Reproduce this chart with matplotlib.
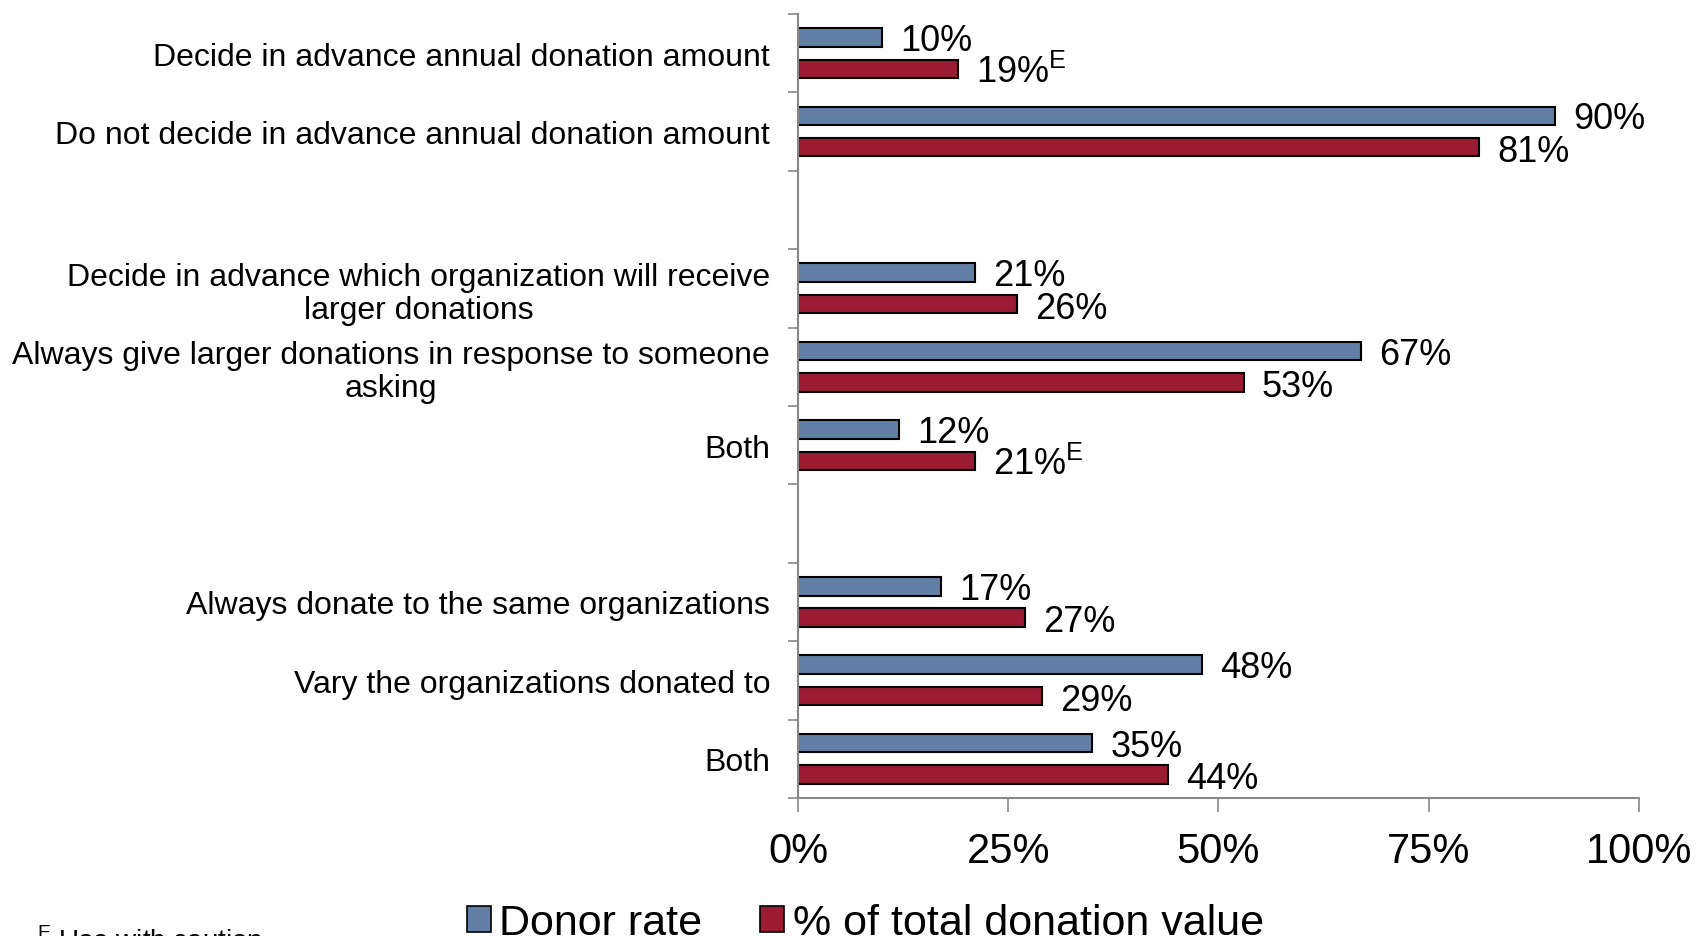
import matplotlib
matplotlib.use("Agg")
import matplotlib.pyplot as plt
from matplotlib.patches import Patch
import numpy as np

plt.rcParams['font.family'] = ['Liberation Sans', 'DejaVu Sans']
plt.rcParams['mathtext.fontset'] = 'custom'
plt.rcParams['mathtext.rm'] = 'Liberation Sans'

categories = [
    "Decide in advance annual donation amount",
    "Do not decide in advance annual donation amount",
    "Decide in advance which organization will receive\nlarger donations",
    "Always give larger donations in response to someone\nasking",
    "Both",
    "Always donate to the same organizations",
    "Vary the organizations donated to",
    "Both",
]
group_sizes = [2, 3, 3]
donor_rate = [10, 90, 21, 67, 12, 17, 48, 35]
donation_value = [19, 81, 26, 53, 21, 27, 29, 44]
donor_labels = ["10%", "90%", "21%", "67%", "12%", "17%", "48%", "35%"]
value_labels = ["19%", "81%", "26%", "53%", "21%", "27%", "29%", "44%"]
value_flags = ["E", "", "", "", "E", "", "", ""]
xticks = [0, 25, 50, 75, 100]
xticklabels = ["0%", "25%", "50%", "75%", "100%"]
legend_labels = ["Donor rate", "% of total donation value"]

blue = "#6280A6"
red = "#9B1B32"

# slot positions with a blank slot between groups
pos = []
p = 0
for gi, n in enumerate(group_sizes):
    for _ in range(n):
        pos.append(p)
        p += 1
    p += 1
pos = np.array(pos, dtype=float)
nslots = int(pos[-1]) + 1

fig = plt.figure(figsize=(17, 9.37), dpi=100)
ax = fig.add_axes([0.4694, 0.1473, 0.4947, 0.8367])

h = 0.235
off = 0.2
ax.barh(pos - off, donor_rate, height=h, color=blue, edgecolor="black", linewidth=1.5)
ax.barh(pos + off, donation_value, height=h, color=red, edgecolor="black", linewidth=1.5)

lab_fs = 26
dy = -0.358 * lab_fs + 0.3  # baseline so digits sit centred on the bar
for y, v, lab in zip(pos - off, donor_rate, donor_labels):
    ax.annotate(lab, (v, y), xytext=(13, dy), textcoords="offset points",
                va="baseline", ha="left", fontsize=lab_fs)
for y, v, lab, fl in zip(pos + off, donation_value, value_labels, value_flags):
    txt = lab + ("$^{\\mathrm{" + fl + "}}$" if fl else "")
    ax.annotate(txt, (v, y), xytext=(13, dy - 0.8), textcoords="offset points",
                va="baseline", ha="left", fontsize=lab_fs)

ax.set_xlim(0, 100)
ax.set_ylim(nslots - 0.5, -0.5)
ax.set_xticks(xticks)
ax.set_xticklabels(xticklabels, fontsize=30)
ax.set_yticks(pos)
ax.set_yticklabels(categories, fontsize=23, multialignment="center", linespacing=1.12)
ax.set_yticks(np.arange(-0.5, nslots, 1.0), minor=True)
ax.tick_params(axis="y", which="major", length=0, pad=20)
ax.tick_params(axis="y", which="minor", length=7, width=1.2, color="#888888", direction="out")
ax.tick_params(axis="x", length=10, width=1.2, color="#888888", direction="out", pad=14)

for s in ["top", "right"]:
    ax.spines[s].set_visible(False)
for s in ["left", "bottom"]:
    ax.spines[s].set_color("#888888")
    ax.spines[s].set_linewidth(1.5)

handles = [Patch(facecolor=blue, edgecolor="black", linewidth=1.2),
           Patch(facecolor=red, edgecolor="black", linewidth=1.2)]
fig.legend(handles, legend_labels, loc="center", bbox_to_anchor=(0.509, 0.014),
           ncol=2, frameon=False, fontsize=31, handlelength=0.55, handleheight=0.55,
           handletextpad=0.2, columnspacing=1.35, borderpad=0)

fig.text(0.022, 1 - 928 / 937, "$^{\\mathrm{E}}$ Use with caution", fontsize=20, va="top", ha="left")

fig.savefig("out.png", dpi=100)
